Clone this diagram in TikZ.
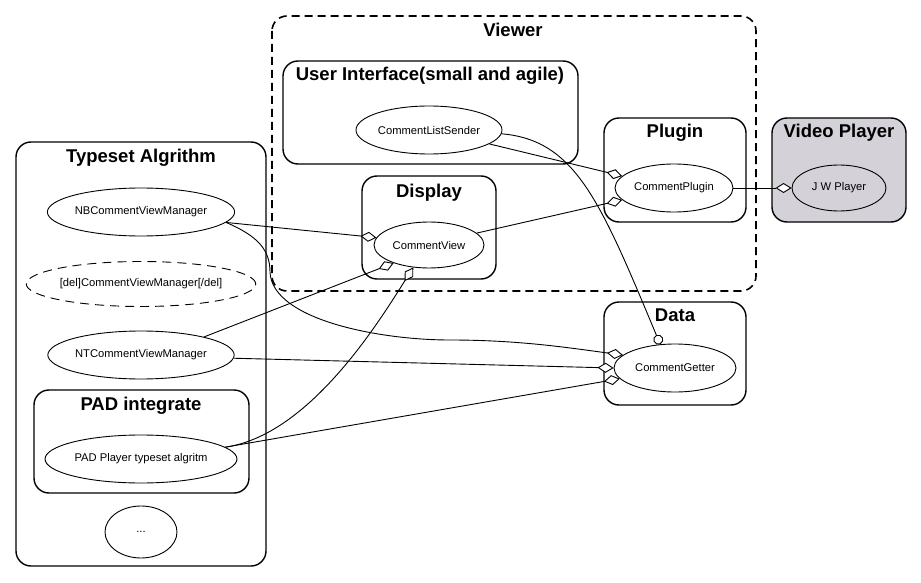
\documentclass[tikz,border=0pt]{standalone}
\usepackage{fontspec}
\setmainfont{Liberation Sans}
\usetikzlibrary{shapes.geometric, arrows.meta}
\definecolor{playergray}{RGB}{212,209,216}
\tikzset{
  group/.style={draw, line width=1.4pt, rounded corners=15pt},
  grouptitle/.style={font=\bfseries\fontsize{18.5}{21}\selectfont, anchor=base, inner sep=0pt},
  usecase/.style={draw, ellipse, line width=0.9pt, inner sep=0pt, fill=white,
    font=\fontsize{11.2}{13}\selectfont},
  link/.style={line width=0.9pt},
  agg/.style={-{Diamond[fill=white, length=16pt, width=10pt]}},
  socket/.style={-{Circle[open, length=10pt]}}
}
\begin{document}
\begin{tikzpicture}[x=1pt, y=-1pt]
\useasboundingbox (0,0) rectangle (921,583);

% package boxes
\draw[group, line width=1.6pt, dash pattern=on 8pt off 5pt] (272,16) rectangle (756,291);
\node[grouptitle] (viewerT) at (513,37) {Viewer};
\draw[group] (283,61) rectangle (578,164);
\node[grouptitle] (uiT) at (430,81) {User Interface(small and agile)};
\draw[group] (362,176) rectangle (496,279);
\node[grouptitle] (displayT) at (429,197) {Display};
\draw[group] (604,118) rectangle (746,222);
\node[grouptitle] (pluginT) at (675,138) {Plugin};
\draw[group, fill=playergray] (772,118) rectangle (906,222);
\node[grouptitle] (playerT) at (839,138) {Video Player};
\draw[group] (604,302) rectangle (746,405);
\node[grouptitle] (dataT) at (675,321) {Data};
\draw[group] (16,142) rectangle (266,566);
\node[grouptitle] (typesetT) at (141,162) {Typeset Algrithm};
\draw[group] (34,390) rectangle (249,493);
\node[grouptitle] (padT) at (141,410) {PAD integrate};

% components
\node[usecase, minimum width=146pt, minimum height=48pt] (cls) at (429,130) {CommentListSender};
\node[usecase, minimum width=110pt, minimum height=46pt] (cv) at (429,245) {CommentView};
\node[usecase, minimum width=118pt, minimum height=48pt] (cp) at (674,188) {CommentPlugin};
\node[usecase, minimum width=94pt, minimum height=46pt, fill=playergray] (jw) at (839,188) {J W Player};
\node[usecase, minimum width=122pt, minimum height=48pt] (cg) at (675,368) {CommentGetter};
\node[usecase, minimum width=186pt, minimum height=48pt] (nb) at (141,212) {NBCommentViewManager};
\node[usecase, dashed, dash pattern=on 9pt off 6pt, minimum width=228pt, minimum height=45pt] (del) at (141,284) {[del]CommentViewManager[/del]};
\node[usecase, minimum width=186pt, minimum height=48pt] (nt) at (141,355) {NTCommentViewManager};
\node[usecase, minimum width=192pt, minimum height=48pt] (pad) at (141,459) {PAD Player typeset algritm};
\node[usecase, minimum width=72pt, minimum height=52pt] (more) at (141,532) {...};

% dependencies
\draw[link, agg] (cls.347) -- (cp.167);
\draw[link, socket] (cls.357) .. controls (575,140) and (600,200) .. (cg.122);
\draw[link, agg] (cv.14) -- (cp.193);
\draw[link, agg] (cp.east) -- (jw.west);
\draw[link, agg] (nb.353) -- (cv.172);
\draw[link, agg] (nb.353) .. controls (258,236) and (270,250) .. (270,272)
  .. controls (272,320) and (380,340) .. (450,340)
  .. controls (520,340) and (570,348) .. (cg.166);
\draw[link, agg] (nt.16) -- (cv.207);
\draw[link, agg] (nt.358) -- (cg.180);
\draw[link, agg] (pad.8) .. controls (310,435) and (380,320) .. (cv.235);
\draw[link, agg] (pad.8) -- (cg.191);
\end{tikzpicture}
\end{document}
